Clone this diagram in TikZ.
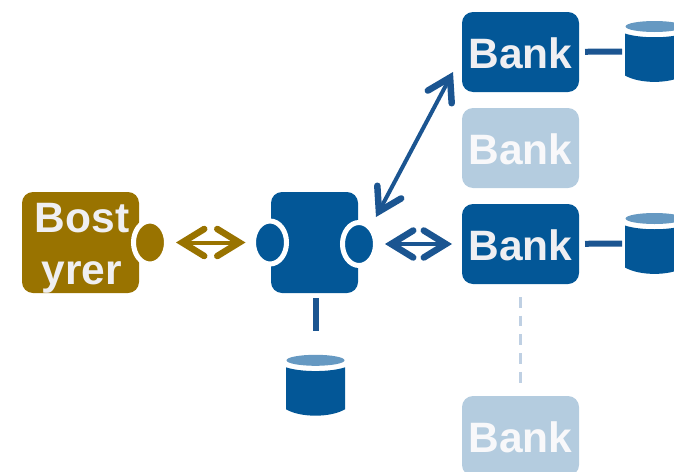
\documentclass[tikz,border=0pt]{standalone}
\usepackage{fontspec}
\setmainfont{Liberation Sans}
\usetikzlibrary{arrows.meta,shapes.geometric}
\definecolor{bankblue}{HTML}{035797}
\definecolor{linkblue}{HTML}{1B5591}
\definecolor{fadeblue}{HTML}{B4CCDF}
\definecolor{dashblue}{HTML}{BFD0E3}
\definecolor{lidblue}{HTML}{6699C2}
\definecolor{bostbrown}{HTML}{997300}
\definecolor{darktext}{HTML}{EFEFF2}
\definecolor{fadetext}{HTML}{F8F8FA}
\tikzset{
  block/.style={rectangle,rounded corners=11pt,inner sep=0pt,outer sep=0pt,minimum height=80pt,minimum width=117pt,font=\fontsize{42.5}{52}\selectfont\bfseries},
  bank/.style={block,fill=bankblue,text=darktext,text height=33.5pt},
  fadebank/.style={block,fill=fadeblue,text=fadetext,text height=33.5pt},
  port/.style={ellipse,draw=white,line width=5pt,inner sep=0pt,outer sep=0pt,minimum width=33pt,minimum height=43pt},
  drumbox/.style={rectangle,inner sep=0pt,outer sep=0pt,minimum width=59pt,minimum height=61pt},
  twoway/.style={line width=4pt,{Straight Barb[length=22pt,width=27pt,line width=6.5pt,line cap=round,line join=miter]}-{Straight Barb[length=22pt,width=27pt,line width=6.5pt,line cap=round,line join=miter]}},
  link/.style={linkblue,line width=6pt}
}
\newcommand{\drum}[3]{
  \node[drumbox] (#1) at (#2,#3) {};
  \begin{scope}[shift={(#2,#3)}]
    \fill[lidblue] (0,-25) ellipse [x radius=29pt,y radius=5.5pt];
    \fill[bankblue] (-29.5,-18) .. controls (-15,-13) and (15,-13) .. (29.5,-18) -- (29.5,24) .. controls (15,32.5) and (-15,32.5) .. (-29.5,24) -- cycle;
  \end{scope}
}

\begin{document}
\begin{tikzpicture}[x=1pt,y=-1pt]
\useasboundingbox (0,0) rectangle (674,471);

\node[block,fill=bostbrown,text=darktext,minimum height=101pt,align=center,text height=84pt,text depth=0pt] (bost) at (80.5,242.5) {\hspace*{3pt}Bost\\\hspace*{3pt}yrer};
\node[block,fill=bankblue,minimum width=87pt,minimum height=101pt] (hub) at (314.5,242.5) {};

\node[port,fill=bostbrown] (portbost) at (150,242.5) {};
\node[port,fill=bankblue] (hubleft) at (270,242.5) {};
\node[port,fill=bankblue] (hubright) at (359,244) {};

\node[bank] (banka) at (520.5,52) {Bank};
\node[fadebank] (bankb) at (520.5,148) {Bank};
\node[bank] (bankc) at (520.5,244) {Bank};
\node[fadebank] (bankd) at (520.5,436) {Bank};

\drum{drumhub}{315.5}{385.3}
\drum{drumc}{654.5}{243.5}
\drum{druma}{654.5}{51.5}

\coordinate (hubdiag) at (376,217);
\coordinate (bankdiag) at (453,72);

\draw[twoway,bostbrown,shorten <=9.5pt,shorten >=8pt] (portbost) -- (hubleft);
\draw[twoway,linkblue,shorten <=9.5pt,shorten >=10pt] (hubright) -- (bankc);
\draw[twoway,linkblue] (hubdiag) -- (bankdiag);

\draw[link,shorten <=6pt,shorten >=3pt] (banka) -- (druma);
\draw[link,shorten <=6pt,shorten >=3pt] (bankc) -- (drumc);
\draw[link,shorten <=5pt,shorten >=24pt] (hub.south -| drumhub) -- (drumhub.north);
\draw[dashblue,line width=3pt,dash pattern=on 10.7pt off 8pt,shorten <=13pt,shorten >=13pt] (bankc) -- (bankd);
\end{tikzpicture}
\end{document}
